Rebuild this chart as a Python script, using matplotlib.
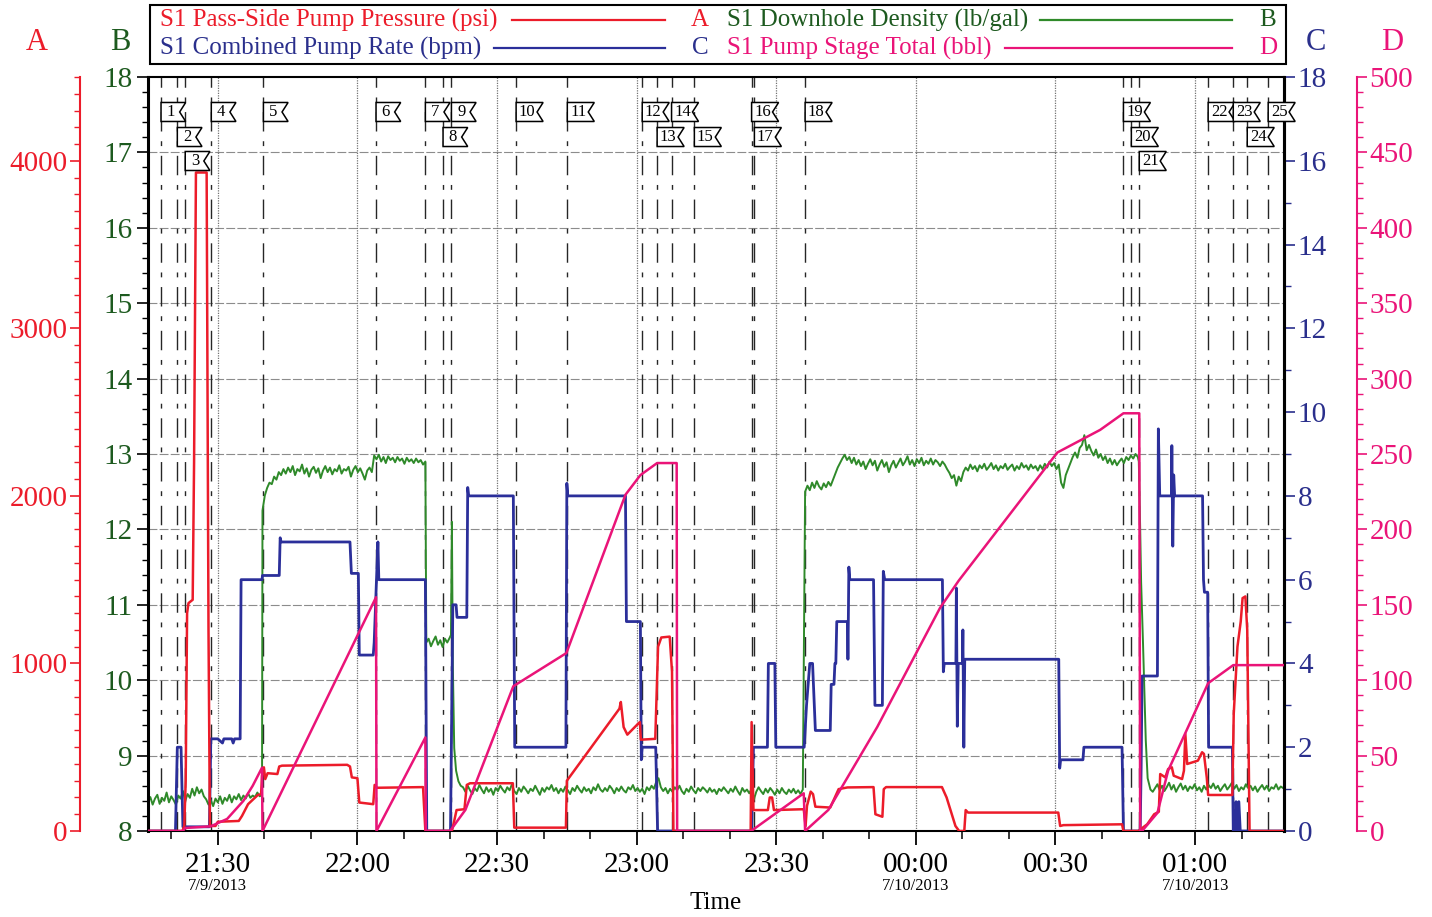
import numpy as np
import matplotlib
matplotlib.use("Agg")
import matplotlib.pyplot as plt
from matplotlib.patches import Polygon, Rectangle
from matplotlib.lines import Line2D
from matplotlib.ticker import MultipleLocator, FixedLocator
import matplotlib.transforms as mtrans

plt.rcParams['font.family'] = ['Liberation Serif', 'DejaVu Serif']

# ---------------- data (time = minutes after 21:00 on 7/9/2013) ----------------
x_range = (15.0, 259.1)

tick_minutes = [30, 60, 90, 120, 150, 180, 210, 240]
tick_labels = ["21:30", "22:00", "22:30", "23:00", "23:30", "00:00", "00:30", "01:00"]
date_labels = {30: "7/9/2013", 180: "7/10/2013", 240: "7/10/2013"}

# S1 Pass-Side Pump Pressure (psi) - axis A
pressure_t = [15.0, 22.4, 22.8, 23.1, 23.4, 23.7, 24.6, 24.9, 25.3, 27.6, 28.0, 28.3, 29.5, 30.0,
              34.5, 35.2, 36.5, 38.6, 39.3, 39.5, 39.9, 40.2, 40.7, 42.8, 43.2, 43.8, 57.8, 58.4,
              58.8, 60.0, 60.4, 63.4, 63.7, 64.2, 74.1, 74.6, 80.3, 80.8, 81.3, 83.0, 83.5, 84.2,
              93.4, 93.7, 104.8, 105.0, 116.3, 116.6, 117.2, 118.0, 120.3, 120.7, 120.9, 124.0,
              124.6, 125.3, 127.1, 127.6, 127.9, 144.5, 144.7, 145.1, 148.2, 148.6, 149.1, 149.5,
              155.9, 156.3, 156.6, 157.4, 157.9, 158.4, 161.6, 163.4, 165.3, 170.9, 171.3, 172.8,
              173.1, 173.6, 185.6, 186.6, 188.5, 189.3, 190.4, 190.7, 191.2, 210.6, 211.0, 211.7,
              224.3, 224.6, 227.8, 229.7, 231.2, 232.2, 232.5, 233.6, 234.2, 235.0, 235.4, 237.2,
              237.6, 237.9, 238.3, 240.6, 241.5, 241.9, 242.5, 242.8, 248.0, 248.3, 249.1, 249.8,
              250.2, 250.8, 251.2, 251.7, 259.1]
pressure_psi = [0, 0, 30, 300, 1300, 1360, 1380, 2200, 3930, 3930, 1200, 30, 30, 55,
                60, 90, 160, 215, 220, 330, 380, 310, 345, 340, 385, 390, 395, 385,
                320, 315, 170, 160, 275, 258, 262, 0, 0, 60, 125, 130, 275, 285,
                285, 20, 20, 300, 730, 770, 620, 575, 640, 650, 545, 550,
                1100, 1155, 1160, 950, 0, 0, 650, 125, 125, 200, 200, 125,
                130, 30, 150, 235, 220, 145, 140, 250, 260, 262, 100, 85,
                250, 262, 262, 200, 30, 0, 0, 125, 110, 110, 30, 35,
                40, 0, 0, 40, 100, 115, 340, 320, 370, 380, 330, 310,
                360, 580, 400, 420, 470, 460, 320, 215, 215, 700, 1100, 1250,
                1390, 1400, 1200, 0, 0]

# S1 Combined Pump Rate (bpm) - axis C
rate_t = [15.0, 20.9, 21.3, 22.1, 22.5, 28.2, 28.5, 30.0, 31.0, 31.3, 33.0, 33.3, 33.6, 34.8,
          35.0, 39.5, 39.6, 43.2, 43.4, 43.6, 58.4, 58.7, 60.2, 60.4, 63.4, 63.6, 64.4, 64.6,
          65.2, 74.6, 74.9, 80.0, 80.5, 81.2, 81.4, 83.5, 83.7, 83.9, 93.5, 93.8, 104.8, 105.0,
          105.2, 117.6, 117.8, 120.8, 121.0, 121.2, 124.1, 124.5, 144.7, 145.1, 148.1, 148.3,
          149.7, 149.9, 156.0, 156.5, 157.2, 157.8, 158.4, 161.6, 161.8, 162.4, 162.6, 162.8,
          163.0, 165.3, 165.4, 165.6, 165.8, 170.9, 171.2, 172.8, 173.0, 173.3, 185.7, 185.9,
          186.1, 188.6, 188.7, 188.9, 189.1, 190.0, 190.1, 190.3, 190.5, 210.7, 210.9, 211.1,
          215.9, 216.1, 224.3, 224.6, 228.2, 228.4, 228.6, 231.9, 232.1, 232.4, 234.9, 235.0,
          235.2, 235.4, 235.6, 241.6, 241.8, 242.0, 242.7, 242.9, 248.0, 248.2, 248.6, 248.8,
          249.1, 249.4, 249.7, 259.1]
rate_bpm = [0, 0, 2.0, 2.0, 0.1, 0.1, 2.2, 2.2, 2.1, 2.2, 2.2, 2.1, 2.2, 2.2,
            6.0, 6.0, 6.1, 6.1, 7.0, 6.9, 6.9, 6.15, 6.15, 4.2, 4.2, 4.5, 6.9, 6.0,
            6.0, 6.0, 0, 0, 5.4, 5.4, 5.1, 5.1, 8.2, 8.0, 8.0, 2.0, 2.0, 8.3,
            8.0, 8.0, 5.0, 5.0, 1.7, 2.0, 2.0, 0, 0, 2.0, 2.0, 4.0,
            4.0, 2.0, 2.0, 3.0, 4.0, 4.0, 2.4, 2.4, 3.5, 3.5, 4.0, 4.0,
            5.0, 5.0, 4.1, 6.3, 6.0, 6.0, 3.0, 3.0, 6.2, 6.0, 6.0, 3.8,
            4.0, 4.0, 5.8, 2.5, 4.0, 4.0, 4.8, 2.0, 4.1, 4.1, 1.5, 1.7,
            1.7, 2.0, 2.0, 0, 0, 1.5, 3.7, 3.7, 9.6, 8.0, 8.0, 9.2,
            6.8, 8.5, 8.0, 8.0, 6.0, 5.7, 5.7, 2.0, 2.0, 0, 0, 0.7,
            0, 0.7, 0, 0]

# S1 Pump Stage Total (bbl) - axis D
stage_t = [15.0, 22.5, 23.0, 28.0, 28.4, 32.0, 35.5, 37.5, 39.5, 39.6, 64.0, 64.1, 74.6, 74.7,
           79.9, 83.2, 93.5, 104.9, 117.6, 120.8, 124.4, 128.6, 128.7, 144.6, 155.9, 156.2,
           161.2, 171.7, 185.2, 189.2, 210.4, 219.6, 224.6, 228.0, 228.2, 228.6, 231.9, 234.2,
           242.8, 248.2, 259.1]
stage_bbl = [0, 0, 2, 3, 3, 8, 20, 30, 42, 0, 155, 0, 62, 0,
             0, 14, 96, 118, 223, 236, 244, 244, 0, 0, 25, 0,
             14, 69, 148, 166, 251, 266, 277, 277, 0, 0, 12, 40,
             98, 110, 110]

# S1 Downhole Density (lb/gal) - axis B, sampled every 0.5 min in segments
density_step = 0.5
density_seg_start = [15.0, 39.6, 74.8, 82.7, 156.2, 231.4]
density_segments = [
    [8.38, 8.45, 8.35, 8.43, 8.48, 8.36, 8.44, 8.40, 8.51, 8.38,
     8.46, 8.41, 8.35, 8.47, 8.43, 8.53, 8.40, 8.49, 8.44, 8.56,
     8.47, 8.58, 8.50, 8.55, 8.46, 8.42, 8.35, 8.41, 8.33, 8.43,
     8.38, 8.46, 8.36, 8.44, 8.40, 8.48, 8.38, 8.46, 8.42, 8.49,
     8.41, 8.47, 8.43, 8.50, 8.44, 8.47, 8.45, 8.51, 8.46, 8.48],
    [12.25, 12.45, 12.55, 12.62, 12.60, 12.70, 12.66, 12.76, 12.72, 12.80,
     12.74, 12.82, 12.76, 12.84, 12.72, 12.80, 12.77, 12.86, 12.74, 12.81,
     12.70, 12.79, 12.83, 12.75, 12.81, 12.68, 12.78, 12.84, 12.76, 12.82,
     12.73, 12.80, 12.77, 12.85, 12.74, 12.80, 12.78, 12.83, 12.70, 12.79,
     12.84, 12.76, 12.81, 12.74, 12.66, 12.78, 12.82, 12.76,
     12.98, 12.93, 12.99, 12.90, 12.96, 12.88, 12.97, 12.92, 12.95, 12.89,
     12.96, 12.91, 12.94, 12.87, 12.95, 12.90, 12.93, 12.88, 12.94, 12.89,
     12.92, 12.86, 12.90],
    [10.50, 10.55, 10.45, 10.52, 10.58, 10.47, 10.53, 10.44, 10.55, 10.50, 10.56],
    [8.58, 8.52, 8.60, 8.54, 8.49, 8.57, 8.53, 8.61, 8.55, 8.50,
     8.58, 8.52, 8.56, 8.48, 8.57, 8.53, 8.60, 8.55, 8.51, 8.58,
     8.54, 8.62, 8.53, 8.49, 8.57, 8.52, 8.59, 8.55, 8.50, 8.56,
     8.53, 8.60, 8.54, 8.48, 8.57, 8.52, 8.58, 8.55, 8.61, 8.53,
     8.57, 8.50, 8.56, 8.52, 8.59, 8.54, 8.49, 8.57, 8.53, 8.60,
     8.55, 8.51, 8.58, 8.53, 8.56, 8.50, 8.58, 8.54, 8.62, 8.55,
     8.52, 8.57, 8.53, 8.60, 8.56, 8.50, 8.57, 8.53, 8.59, 8.54,
     8.51, 8.58, 8.55, 8.61, 8.53, 8.57, 8.52, 8.56, 8.49, 8.58,
     8.54, 8.60, 8.56, 8.65, 8.70, 8.58, 8.53, 8.57, 8.50, 8.56,
     8.52, 8.58, 8.54, 8.60, 8.53, 8.49, 8.56, 8.52, 8.59, 8.54,
     8.50, 8.57, 8.53, 8.58, 8.55, 8.51, 8.57, 8.52, 8.55, 8.49,
     8.56, 8.53, 8.58, 8.54, 8.50, 8.56, 8.52, 8.59, 8.53, 8.48,
     8.57, 8.52, 8.55, 8.50, 8.56, 8.42, 8.52, 8.58, 8.53, 8.49,
     8.56, 8.51, 8.57, 8.53, 8.48, 8.55, 8.50, 8.57, 8.52, 8.49,
     8.55, 8.51, 8.56, 8.50, 8.54, 8.49, 8.55],
    [12.50, 12.58, 12.52, 12.62, 12.55, 12.64, 12.57, 12.53, 12.61, 12.56, 12.63, 12.58, 12.66,
     12.74, 12.82, 12.88, 12.94, 12.99, 12.92, 12.96,
     12.88, 12.95, 12.86, 12.92, 12.84, 12.90, 12.80, 12.87, 12.93, 12.85,
     12.91, 12.78, 12.86, 12.92, 12.83, 12.89, 12.76, 12.85, 12.91, 12.82,
     12.88, 12.94, 12.85, 12.90, 12.97, 12.86, 12.92, 12.84, 12.93, 12.88,
     12.95, 12.85, 12.91, 12.87, 12.94, 12.86, 12.92, 12.89, 12.84, 12.90,
     12.86, 12.80,
     12.75, 12.68, 12.72, 12.58, 12.70, 12.64, 12.76,
     12.82, 12.78, 12.86, 12.80, 12.84, 12.77, 12.85, 12.81, 12.87, 12.79,
     12.83, 12.88, 12.80, 12.85, 12.78, 12.84, 12.81, 12.87, 12.79, 12.83,
     12.86, 12.78, 12.84, 12.80, 12.88, 12.82, 12.85, 12.79, 12.86, 12.81,
     12.84, 12.78, 12.85, 12.80, 12.87, 12.82, 12.90, 12.84, 12.88, 12.80, 12.86,
     12.62, 12.55, 12.72, 12.80, 12.88,
     12.96, 13.02, 12.95, 13.08, 13.12, 13.25,
     13.05, 13.12, 13.04, 12.98, 13.06, 12.95, 13.00, 12.92, 12.97, 12.88,
     12.94, 12.86, 12.92, 12.85, 12.90, 12.94, 12.88, 12.96, 12.92, 12.98, 12.94, 13.00, 12.96],
    [8.57, 8.62, 8.54, 8.60, 8.53, 8.58, 8.64, 8.55, 8.61, 8.52,
     8.58, 8.63, 8.55, 8.60, 8.53, 8.59, 8.56, 8.62, 8.54, 8.58,
     8.52, 8.60, 8.55, 8.61, 8.57, 8.63, 8.56, 8.60, 8.53, 8.58,
     8.62, 8.55, 8.59, 8.64, 8.56, 8.61, 8.53, 8.58, 8.55, 8.62,
     8.57, 8.60, 8.54, 8.59, 8.52, 8.57, 8.61, 8.55, 8.60, 8.53,
     8.58, 8.56, 8.62, 8.55, 8.59, 8.57],
]
density_bridge_t = [80.1, 80.3, 80.5, 80.8, 81.2, 81.7, 82.2,
                    227.9, 228.2, 228.4, 228.8, 229.4, 229.8, 230.4, 230.9]
density_bridge_v = [10.6, 12.1, 10.2, 9.1, 8.8, 8.66, 8.6,
                    12.9, 12.0, 11.3, 10.5, 9.2, 8.7, 8.55, 8.52]

# event markers
event_t = [17.8, 21.3, 23.0, 28.6, 39.8, 64.0, 74.6, 78.4, 80.2, 94.1, 105.1, 121.2, 124.4,
           127.5, 132.4, 144.7, 145.3, 156.2, 224.6, 226.3, 228.0, 242.8, 248.2, 251.2, 255.7]
event_row = [1, 2, 3, 1, 1, 1, 1, 2, 1, 1, 1, 1, 2, 1, 2, 1, 2, 1, 1, 2, 3, 1, 1, 2, 1]

# ---------------- styling ----------------
RED = '#ec1c2a'
GREEN_LINE = '#2f8a2a'
GREEN_TXT = '#1d5a1f'
BLUE = '#2b2f9a'
BLUE_TXT = '#2a2f8c'
PINK = '#ea1478'

W, H = 1432, 917
fig = plt.figure(figsize=(W / 100, H / 100), dpi=100)
L, R, B, T = 148, 1284, 831, 77
ax = fig.add_axes([L / W, 1 - B / H, (R - L) / W, (B - T) / H])


def px(x, y):
    return x / W, 1 - y / H


# build density series
d_t, d_v = [], []
for st, seg in zip(density_seg_start, density_segments):
    d_t.extend(st + density_step * np.arange(len(seg)))
    d_v.extend(seg)
d_t.extend(density_bridge_t)
d_v.extend(density_bridge_v)
order = np.argsort(d_t)
d_t = np.asarray(d_t)[order]
d_v = np.asarray(d_v)[order]

# host axis: density (B)
ax.set_xlim(*x_range)
ax.set_ylim(8, 18)
ax.yaxis.set_major_locator(MultipleLocator(1))
ax.yaxis.set_minor_locator(MultipleLocator(0.2))
ax.tick_params(axis='y', which='major', direction='out', length=8, width=1.2,
               labelsize=21, labelcolor=GREEN_TXT, pad=3)
ax.tick_params(axis='y', which='minor', direction='out', length=4, width=1)
ax.xaxis.set_major_locator(FixedLocator(tick_minutes))
ax.set_xticklabels(tick_labels)
ax.xaxis.set_minor_locator(MultipleLocator(10))
ax.tick_params(axis='x', which='major', direction='out', length=10, width=1.3,
               labelsize=21, pad=5)
ax.tick_params(axis='x', which='minor', direction='out', length=6, width=1.1)
for s in ['left', 'right']:
    ax.spines[s].set_linewidth(2.2)
for s in ['top', 'bottom']:
    ax.spines[s].set_linewidth(1.5)

# grid
for yv in range(9, 18):
    ax.axhline(yv, color='0.55', lw=0.8, ls=(0, (8, 2)), zorder=0.5)
for xv in tick_minutes:
    ax.axvline(xv, color='0.45', lw=0.9, ls=(0, (1, 1)), zorder=0.5)
# event lines
for et in event_t:
    ax.axvline(et, color='0.15', lw=1.0, ls=(0, (14, 7, 3.5, 7)), zorder=0.6)

ax.plot(d_t, d_v, color=GREEN_LINE, lw=1.4, zorder=2)

for xv, lab in date_labels.items():
    ax.annotate(lab, xy=(xv, 0), xycoords=('data', 'axes fraction'),
                xytext=(0, -34), textcoords='offset points', ha='center', va='top',
                fontsize=12)
fig.text(*px(716, 903), 'Time', fontsize=18, ha='center', va='center')

# rate axis (C)
ax_c = ax.twinx()
ax_c.set_ylim(0, 18)
ax_c.yaxis.set_major_locator(MultipleLocator(2))
ax_c.yaxis.set_minor_locator(MultipleLocator(1))
ax_c.tick_params(axis='y', which='major', direction='out', length=8, width=1.2,
                 labelsize=21, labelcolor=BLUE_TXT, color=BLUE_TXT, pad=2)
ax_c.tick_params(axis='y', which='minor', direction='out', length=5, width=1, color=BLUE_TXT)
for s in ['left', 'top', 'bottom']:
    ax_c.spines[s].set_visible(False)
ax_c.spines['right'].set_linewidth(2.2)
ax_c.plot(rate_t, rate_bpm, color=BLUE, lw=2.0, zorder=3)

# pressure axis (A)
ax_a = ax.twinx()
ax_a.set_ylim(0, 4500)
ax_a.yaxis.tick_left()
ax_a.spines['left'].set_position(('axes', -68 / (R - L)))
ax_a.spines['left'].set_visible(True)
ax_a.spines['left'].set_color(RED)
ax_a.spines['left'].set_linewidth(1.5)
for s in ['right', 'top', 'bottom']:
    ax_a.spines[s].set_visible(False)
ax_a.yaxis.set_major_locator(MultipleLocator(1000))
ax_a.yaxis.set_minor_locator(MultipleLocator(100))
ax_a.tick_params(axis='y', which='major', direction='out', length=7, width=1.2,
                 labelsize=21, labelcolor=RED, color=RED, pad=2)
ax_a.tick_params(axis='y', which='minor', direction='out', length=4, width=1, color=RED)
ax_a.plot(pressure_t, pressure_psi, color=RED, lw=1.8, zorder=4)

# stage total axis (D)
ax_d = ax.twinx()
ax_d.set_ylim(0, 500)
ax_d.spines['right'].set_position(('axes', 1 + 73 / (R - L)))
ax_d.spines['right'].set_color(PINK)
ax_d.spines['right'].set_linewidth(1.5)
for s in ['left', 'top', 'bottom']:
    ax_d.spines[s].set_visible(False)
ax_d.yaxis.set_major_locator(MultipleLocator(50))
ax_d.yaxis.set_minor_locator(MultipleLocator(10))
ax_d.tick_params(axis='y', which='major', direction='out', length=7, width=1.2,
                 labelsize=21, labelcolor=PINK, color=PINK, pad=2)
ax_d.tick_params(axis='y', which='minor', direction='out', length=4, width=1, color=PINK)
ax_d.plot(stage_t, stage_bbl, color=PINK, lw=1.8, zorder=5)

# event flags
blend = mtrans.blended_transform_factory(ax_d.transData, ax_d.transAxes)
row_y = {1: 0.9536, 2: 0.9204, 3: 0.8886}
fh = 19 / (B - T)
for i, (et, rw) in enumerate(zip(event_t, event_row)):
    num = str(i + 1)
    w = 5.3 if len(num) == 1 else 5.8
    notch = 1.3
    yc = row_y[rw]
    yb, yt = yc - fh / 2, yc + fh / 2
    poly = Polygon([(et, yb), (et + w, yb), (et + w - notch, yc), (et + w, yt), (et, yt)],
                   closed=True, transform=blend, facecolor='white', edgecolor='black',
                   lw=1.1, zorder=10, clip_on=False)
    ax_d.add_patch(poly)
    ax_d.text(et + (w - notch) / 2 + 0.1, yc, num, transform=blend, ha='center', va='center',
              fontsize=12, zorder=11)

# axis letters
for lx, txt, col in [(37, 'A', RED), (120, 'B', GREEN_TXT), (1316, 'C', BLUE_TXT), (1392, 'D', PINK)]:
    fig.text(*px(lx, 42), txt, color=col, fontsize=22, ha='center', va='center')

# legend box
x0, y0 = px(150, 64)
x1, y1 = px(1286, 5)
fig.add_artist(Rectangle((x0, y0), x1 - x0, y1 - y0, transform=fig.transFigure,
                         facecolor='white', edgecolor='black', lw=1.5))
legend_rows = [
    ("S1 Pass-Side Pump Pressure (psi)", RED, 160, 20, 512, 665, "A", 700),
    ("S1 Combined Pump Rate (bpm)", BLUE_TXT, 160, 48, 494, 665, "C", 700),
    ("S1 Downhole Density (lb/gal)", GREEN_TXT, 727, 20, 1040, 1232, "B", 1268),
    ("S1 Pump Stage Total (bbl)", PINK, 727, 48, 1005, 1232, "D", 1268),
]
line_cols = {"A": RED, "B": GREEN_LINE, "C": BLUE, "D": PINK}
for txt, col, tx, ty, la, lb, letter, lx in legend_rows:
    fig.text(*px(tx, ty), txt, color=col, fontsize=18, ha='left', va='center')
    xa, ya = px(la, ty)
    xb, _ = px(lb, ty)
    fig.add_artist(Line2D([xa, xb], [ya, ya], transform=fig.transFigure,
                          color=line_cols[letter], lw=1.6))
    fig.text(*px(lx, ty), letter, color=col, fontsize=18, ha='center', va='center')

fig.savefig('out.png', dpi=100)
